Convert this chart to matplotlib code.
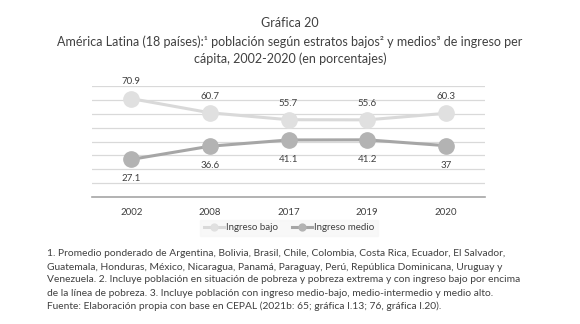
import matplotlib
matplotlib.use("Agg")
import matplotlib.pyplot as plt
import numpy as np

years = ["2002", "2008", "2017", "2019", "2020"]
ingreso_bajo = [70.9, 60.7, 55.7, 55.6, 60.3]
ingreso_medio = [27.1, 36.6, 41.1, 41.2, 37]
bajo_labels = ["70.9", "60.7", "55.7", "55.6", "60.3"]
medio_labels = ["27.1", "36.6", "41.1", "41.2", "37"]

title1 = "Gráfica 20"
title2 = "América Latina (18 países):¹ población según estratos bajos² y medios³ de ingreso per"
title3 = "cápita, 2002-2020 (en porcentajes)"
notes = [
    "1. Promedio ponderado de Argentina, Bolivia, Brasil, Chile, Colombia, Costa Rica, Ecuador, El Salvador,",
    "Guatemala, Honduras, México, Nicaragua, Panamá, Paraguay, Perú, República Dominicana, Uruguay y",
    "Venezuela. 2. Incluye población en situación de pobreza y pobreza extrema y con ingreso bajo por encima",
    "de la línea de pobreza. 3. Incluye población con ingreso medio-bajo, medio-intermedio y medio alto.",
    "Fuente: Elaboración propia con base en CEPAL (2021b: 65; gráfica I.13; 76, gráfica I.20).",
]

plt.rcParams['font.family'] = ['Lato', 'DejaVu Sans']

W, H = 580, 324
fig = plt.figure(figsize=(W / 100, H / 100), dpi=100)
ax = fig.add_axes([92 / W, 1 - 197 / H, (485 - 92) / W, (197 - 86) / H])

x = np.arange(len(years))
c_bajo_line = "#d9d9d9"
c_bajo_mark = "#e0e0e0"
c_medio_line = "#a6a6a6"
c_medio_mark = "#b3b3b3"

ax.plot(x, ingreso_bajo, color=c_bajo_line, lw=2.2, marker="o", ms=11,
        markerfacecolor=c_bajo_mark, markeredgecolor=c_bajo_mark, label="Ingreso bajo", zorder=3)
ax.plot(x, ingreso_medio, color=c_medio_line, lw=2.2, marker="o", ms=11,
        markerfacecolor=c_medio_mark, markeredgecolor=c_medio_mark, label="Ingreso medio", zorder=3)

for xi, v, t in zip(x, ingreso_bajo, bajo_labels):
    ax.annotate(t, (xi, v), xytext=(0, 12), textcoords="offset points",
                ha="center", va="center", fontsize=7, color="#404040")
for xi, v, t in zip(x, ingreso_medio, medio_labels):
    ax.annotate(t, (xi, v), xytext=(0, -14), textcoords="offset points",
                ha="center", va="center", fontsize=7, color="#404040")

ax.set_xlim(-0.5, len(years) - 0.5)
ax.set_ylim(0, 80)
ax.set_yticks(np.arange(0, 81, 10))
ax.set_yticklabels([])
ax.tick_params(axis="y", length=0)
ax.tick_params(axis="x", length=0, pad=8, labelsize=7, labelcolor="#404040")
ax.set_xticks(x)
ax.set_xticklabels(years)
ax.grid(axis="y", color="#d9d9d9", lw=0.9)
ax.set_axisbelow(True)
for s in ["top", "right", "left"]:
    ax.spines[s].set_visible(False)
ax.spines["bottom"].set_color("#a6a6a6")
ax.spines["bottom"].set_linewidth(1.2)

leg = fig.legend(loc="center", bbox_to_anchor=(289 / W, 1 - 228 / H), ncol=2,
                 fontsize=7, frameon=True, markerscale=0.45, handlelength=2.0,
                 columnspacing=1.5, handletextpad=0.2, borderpad=0.4)
leg.get_frame().set_facecolor("#f7f7f7")
leg.get_frame().set_edgecolor("#f7f7f7")
leg.get_frame().set_boxstyle("square", pad=0)
for t in leg.get_texts():
    t.set_color("#404040")

fig.text(0.5, 1 - 23 / H, title1, ha="center", va="center", fontsize=9, color="#404040")
fig.text(0.5, 1 - 42 / H, title2, ha="center", va="center", fontsize=9, color="#404040")
fig.text(0.5, 1 - 59 / H, title3, ha="center", va="center", fontsize=9, color="#404040")

for i, line in enumerate(notes):
    fig.text(47 / W, 1 - (254 + 13 * i) / H, line, ha="left", va="center",
             fontsize=7.4, color="#404040")

fig.savefig("out.png", dpi=100, facecolor="white")
